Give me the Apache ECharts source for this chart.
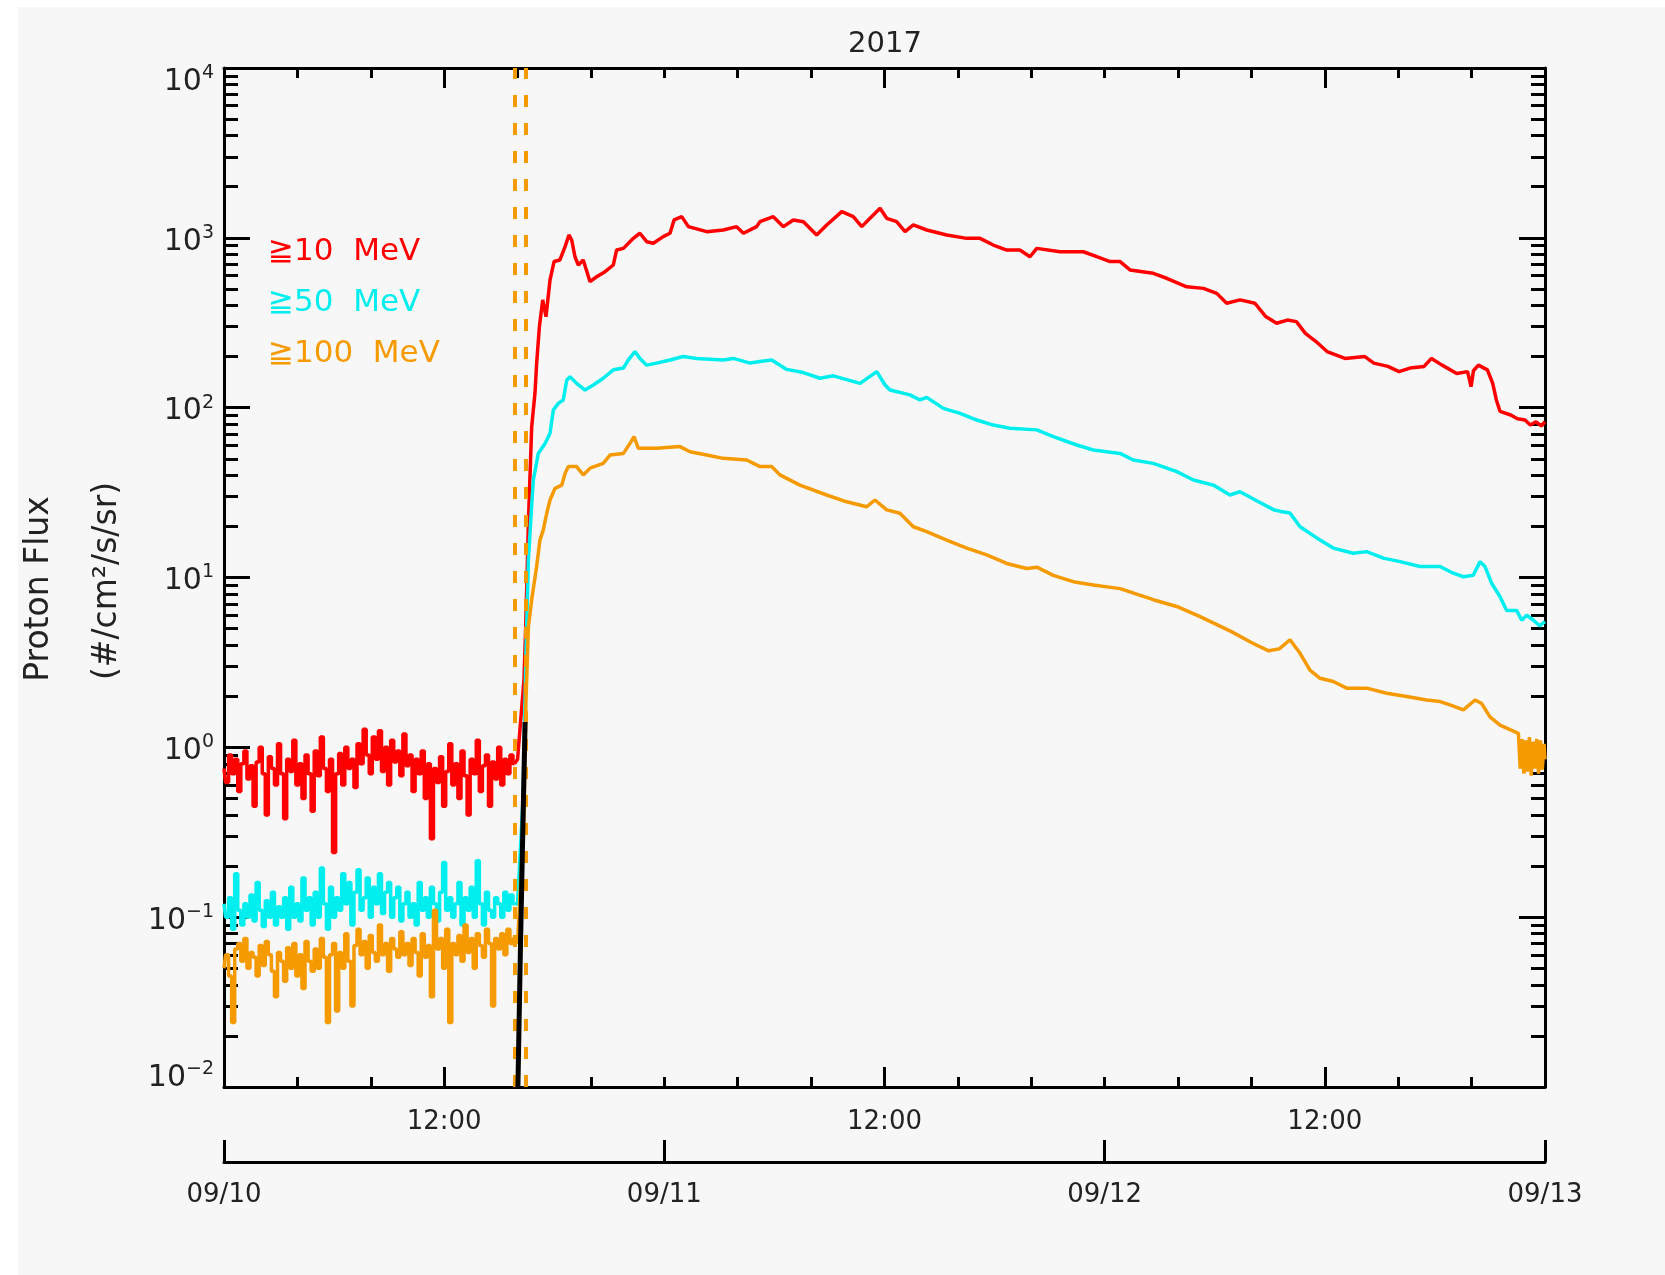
<!DOCTYPE html>
<html>
<head>
<meta charset="utf-8">
<script src="https://cdn.jsdelivr.net/npm/echarts@6/dist/echarts.min.js"></script>
<style>
html,body{margin:0;padding:0;background:#ffffff;width:1665px;height:1275px;overflow:hidden}
#c{position:absolute;left:18px;top:7px;width:1647px;height:1268px;background:#f7f7f7}
</style>
</head>
<body>
<div id="c"></div>
<script>
// ---------------- data (hours since 2017-09-10 00:00, flux in #/cm2/s/sr) ----------------
const titleText = '2017';
const legendLabels = ['\u226710  MeV', '\u226750  MeV', '\u2267100  MeV'];
const yTitleLines = ['Proton Flux', '(#/cm\u00b2/s/sr)'];

const preStepHours = 1 / 6; // 10-minute sampling before the event

const redPre = [0.75,0.62,0.9,0.7,0.85,0.55,0.8,0.95,0.65,0.78,
  0.45,0.82,1.0,0.7,0.4,0.88,0.75,0.6,1.05,0.7,
  0.38,0.85,0.72,1.1,0.6,0.8,0.5,0.9,0.7,0.42,
  0.95,0.68,1.15,0.75,0.55,0.85,0.24,0.7,0.92,0.6,
  1.0,0.75,0.85,0.58,1.05,0.8,1.28,0.9,0.7,1.15,
  0.85,1.25,0.72,1.0,0.6,1.1,0.82,0.95,0.68,1.2,
  0.78,0.9,0.55,0.85,0.7,0.95,0.5,0.8,0.29,0.75,
  0.62,0.88,0.45,0.72,1.05,0.6,0.8,0.5,0.95,0.68,
  0.4,0.85,0.7,1.1,0.55,0.78,0.9,0.45,0.82,0.65,
  1.0,0.6,0.85,0.7,0.9,0.8];

const cyanPre = [0.12,0.1,0.13,0.085,0.18,0.11,0.09,0.12,0.1,0.135,
  0.095,0.16,0.11,0.088,0.125,0.1,0.14,0.09,0.115,0.1,
  0.13,0.085,0.15,0.1,0.12,0.095,0.17,0.11,0.13,0.09,
  0.14,0.1,0.195,0.12,0.085,0.15,0.1,0.13,0.11,0.18,
  0.12,0.16,0.09,0.14,0.19,0.11,0.13,0.17,0.1,0.15,
  0.12,0.18,0.105,0.14,0.16,0.1,0.13,0.15,0.095,0.12,
  0.14,0.1,0.12,0.09,0.16,0.11,0.13,0.1,0.15,0.12,
  0.095,0.14,0.21,0.11,0.13,0.1,0.12,0.16,0.09,0.13,
  0.11,0.15,0.1,0.215,0.12,0.09,0.14,0.11,0.1,0.13,
  0.12,0.1,0.14,0.11,0.135,0.12];

const orangePre = [0.05,0.06,0.045,0.024,0.065,0.07,0.055,0.075,0.05,0.062,
  0.058,0.045,0.068,0.052,0.072,0.06,0.048,0.034,0.062,0.055,
  0.042,0.066,0.05,0.07,0.045,0.06,0.038,0.072,0.055,0.048,
  0.065,0.05,0.075,0.058,0.024,0.06,0.07,0.028,0.062,0.05,
  0.08,0.055,0.03,0.068,0.085,0.06,0.072,0.05,0.078,0.062,
  0.055,0.09,0.06,0.07,0.048,0.075,0.065,0.058,0.082,0.06,
  0.07,0.052,0.075,0.062,0.045,0.08,0.058,0.068,0.034,0.11,
  0.065,0.075,0.05,0.085,0.024,0.07,0.06,0.078,0.055,0.09,
  0.062,0.075,0.05,0.08,0.068,0.058,0.085,0.07,0.03,0.075,
  0.065,0.08,0.06,0.085,0.07,0.075];

const redEvent = [[16.0,0.85],[16.35,2.5],[16.45,5.4],[16.59,20.9],[16.77,77],[16.95,122],[17.04,182],[17.19,300],[17.37,431],[17.55,343],[17.77,565],[17.99,725],[18.31,741],[18.59,887],[18.80,1040],[18.95,971],[19.13,774],[19.31,692],[19.58,741],[19.95,552],[20.31,590],[20.77,632],[21.22,692],[21.40,848],[21.77,867],[22.31,993],[22.67,1064],[23.04,949],[23.40,929],[23.94,1016],[24.31,1064],[24.53,1274],[24.95,1333],[25.31,1164],[26.31,1087],[27.21,1112],[27.94,1164],[28.31,1064],[29.03,1164],[29.21,1245],[29.94,1333],[30.49,1164],[31.03,1274],[31.58,1245],[32.30,1040],[32.85,1191],[33.67,1426],[34.30,1333],[34.76,1164],[35.21,1303],[35.76,1493],[36.12,1303],[36.66,1245],[37.12,1087],[37.57,1191],[38.30,1112],[39.39,1040],[40.48,993],[41.21,993],[41.93,907],[42.66,847],[43.38,847],[43.93,774],[44.30,867],[45.57,828],[46.84,828],[47.57,774],[48.29,725],[48.84,725],[49.38,647],[50.65,618],[51.38,578],[52.47,515],[53.38,504],[54.11,471],[54.65,412],[55.38,431],[56.19,412],[56.78,344],[57.37,314],[57.96,328],[58.45,321],[58.94,274],[59.52,245],[60.12,214],[61.10,195],[62.18,200],[62.67,183],[63.44,175],[64.04,163],[64.64,171],[65.41,175],[65.81,195],[66.39,178],[67.19,159],[67.78,163],[67.97,133],[68.1,165],[68.37,178],[68.86,167],[69.15,139],[69.35,111],[69.55,95],[70.13,90.5],[70.5,86],[70.91,84.6],[71.2,79],[71.51,82.6],[71.8,78],[72,82.6]];

const cyanEvent = [[16.0,0.12],[16.3,0.5],[16.46,3.6],[16.59,12.7],[16.72,21.8],[16.86,37.5],[17.13,53.8],[17.50,61.6],[17.77,70.6],[17.95,96.9],[18.22,106],[18.49,111],[18.68,145],[18.86,152],[19.22,139],[19.68,127],[20.13,136],[20.67,149],[21.22,167],[21.77,171],[22.04,191],[22.40,214],[22.67,195],[23.04,178],[23.58,183],[24.31,191],[25.03,200],[25.76,195],[27.21,191],[27.76,195],[28.67,183],[29.21,187],[29.85,191],[30.67,168],[31.58,161],[32.48,149],[33.21,154],[34.67,139],[35.58,163],[36.03,136],[36.30,127],[37.39,119],[37.94,111],[38.30,115],[39.21,99],[40.12,92.6],[41.03,84.6],[41.93,79],[42.84,75.6],[44.30,74],[45.20,67.5],[46.48,60.3],[47.38,56.3],[48.84,53.8],[49.56,49.2],[50.65,47],[51.93,42],[52.84,37.5],[53.92,35],[54.83,30.6],[55.38,32],[56.36,28],[57.23,25],[57.6,24.5],[58.10,24],[58.65,19.9],[59.74,16.6],[60.46,14.9],[61.55,13.9],[62.28,14.2],[63.19,13.0],[64.10,12.4],[65.19,11.6],[66.28,11.6],[67.0,10.6],[67.55,10.1],[68.09,10.3],[68.46,12.4],[68.73,11.6],[69.09,9.25],[69.55,7.7],[69.91,6.4],[70.46,6.4],[70.73,5.6],[71.0,6.0],[71.37,5.6],[71.7,5.2],[72,5.5]];

const orangeEvent = [[16.0,0.07],[16.35,0.4],[16.46,1.9],[16.59,5.1],[16.77,7.4],[17.04,11.6],[17.22,16.6],[17.40,19],[17.59,23.9],[17.77,28.6],[18.04,33.5],[18.41,35],[18.59,41],[18.77,45],[19.22,45],[19.58,40.2],[19.95,44],[20.67,47],[21.04,52.6],[21.77,53.8],[22.13,61.6],[22.35,67.5],[22.58,57.7],[23.58,57.7],[24.85,59],[25.40,55],[26.31,52.6],[27.21,50.3],[28.49,49.2],[29.21,45],[29.85,45],[30.30,40.2],[31.39,35],[32.85,30.6],[33.94,27.9],[35.03,26.1],[35.48,28.6],[36.12,25],[36.84,23.9],[37.57,19.9],[38.30,18.6],[39.39,16.6],[40.48,14.9],[41.57,13.6],[42.66,12.1],[43.75,11.3],[44.3,11.5],[45.20,10.3],[46.29,9.45],[47.38,9.03],[48.84,8.6],[50.65,7.4],[52.02,6.7],[53.17,5.9],[54.91,4.8],[56.07,4.1],[56.94,3.7],[57.52,3.8],[58.10,4.3],[58.65,3.58],[59.19,2.85],[59.74,2.55],[60.46,2.44],[61.19,2.23],[62.28,2.23],[63.37,2.08],[64.46,1.99],[65.55,1.90],[66.28,1.86],[66.82,1.78],[67.55,1.66],[68.19,1.90],[68.55,1.81],[69.0,1.51],[69.55,1.35],[70.09,1.27],[70.55,1.21],[70.65,0.75],[70.75,1.12],[70.85,0.7],[70.95,1.1],[71.05,0.72],[71.15,1.15],[71.25,0.68],[71.35,1.08],[71.45,0.75],[71.55,1.12],[71.65,0.7],[71.75,1.1],[71.85,0.74],[71.95,1.05],[72,0.85]];

const spikeTrace = [[16.02,0.01],[16.15,0.06],[16.28,0.3],[16.41,1.41]];

const eventLineHours = [15.87, 16.42];

const hourTicks = [0,4,8,12,16,20,24,28,32,36,40,44,48,52,56,60,64,68,72];
const hourLabelTicks = [12, 36, 60];
const hourLabels = ['12:00', '12:00', '12:00'];
const dayTicks = [0, 24, 48, 72];
const dayLabels = ['09/10', '09/11', '09/12', '09/13'];
const decadeTicks = [0.01, 0.1, 1, 10, 100, 1000, 10000];
const minorMultipliers = [2,3,4,5,6,7,8,9];

// ---------------- styling ----------------
const FONT = 'DejaVu Sans';
const INK = '#222222';
const RED = '#ff0000', CYAN = '#00eeee', ORANGE = '#f59a00';
const FRAME = {color: '#000000', width: 3};

const preHours = redPre.map((_, i) => i * preStepHours);
const zip = (h, v) => h.map((x, i) => [x, v[i]]);
const lastPre = (v) => [[preHours[preHours.length - 1], v[v.length - 1]]];

// minor log tick positions expressed as exponents (for the tick-only helper axes)
const minorExp = [];
decadeTicks.slice(0, -1).forEach(d => minorMultipliers.forEach(m => minorExp.push(Math.log10(d * m))));

function powLabel(v) {
  const e = Math.round(Math.log10(v));
  const sup = e < 0 ? '\u2212' + (-e) : String(e);
  if (e === 4) return '{bt|10}{st|' + sup + '}';
  if (e === -2) return '{bb|10}{sb|' + sup + '}';
  return '{b|10}{s|' + sup + '}';
}

const baseText = {fontFamily: FONT, color: INK, verticalAlign: 'middle'};
const xBase = {type: 'value', min: 0, max: 72, splitLine: {show: false},
  axisLine: {show: false, onZero: false}, axisLabel: {show: false}, axisTick: {show: false}};
const yLogBase = {type: 'log', logBase: 10, min: 0.01, max: 10000, splitLine: {show: false}};
const yExpBase = {type: 'value', min: -2, max: 4, splitLine: {show: false},
  axisLine: {show: false, onZero: false}, axisLabel: {show: false}};

const lineSeries = (name, data, color, width, z, step) => ({
  type: 'line', name, data, xAxisIndex: 0, yAxisIndex: 0,
  showSymbol: false, symbol: 'none', z, step: step || false,
  lineStyle: {color, width}, itemStyle: {color},
  emphasis: {disabled: true}, animation: false
});

const orange = lineSeries('\u2267100 MeV', lastPre(orangePre).concat(orangeEvent), ORANGE, 3.5, 4);
orange.markLine = {
  silent: true, symbol: ['none', 'none'], label: {show: false}, animation: false,
  lineStyle: {color: ORANGE, width: 4, type: [12, 16]},
  emphasis: {disabled: true},
  data: eventLineHours.map(h => ({xAxis: h}))
};

const option = {
  backgroundColor: '#f7f7f7',
  animation: false,
  grid: {left: 206, top: 61, width: 1321, height: 1019, containLabel: false, outerBoundsMode: 'none'},
  xAxis: [
    Object.assign({}, xBase, {position: 'bottom',
      axisLine: {show: true, onZero: false, lineStyle: FRAME},
      axisTick: {show: true, inside: true, length: 10, customValues: hourTicks, lineStyle: FRAME}}),
    Object.assign({}, xBase, {position: 'bottom',
      axisTick: {show: true, inside: true, length: 20, customValues: hourLabelTicks, lineStyle: FRAME},
      axisLabel: {show: true, customValues: hourLabelTicks, margin: 22, fontFamily: FONT, fontSize: 26, color: INK,
        formatter: v => hourLabels[hourLabelTicks.indexOf(v)]}}),
    Object.assign({}, xBase, {position: 'top',
      axisLine: {show: true, onZero: false, lineStyle: FRAME},
      axisTick: {show: true, inside: true, length: 10, customValues: hourTicks, lineStyle: FRAME}}),
    Object.assign({}, xBase, {position: 'top',
      axisTick: {show: true, inside: true, length: 20, customValues: hourLabelTicks, lineStyle: FRAME}}),
    Object.assign({}, xBase, {position: 'bottom', offset: 75,
      axisLine: {show: true, onZero: false, lineStyle: FRAME},
      axisTick: {show: true, inside: true, length: 22, customValues: dayTicks, lineStyle: FRAME},
      axisLabel: {show: true, customValues: dayTicks, margin: 20, fontFamily: FONT, fontSize: 26, color: INK,
        showMinLabel: true, showMaxLabel: true,
        formatter: v => dayLabels[dayTicks.indexOf(v)]}})
  ],
  yAxis: [
    Object.assign({}, yLogBase, {position: 'left',
      axisLine: {show: true, onZero: false, lineStyle: FRAME},
      axisTick: {show: true, inside: true, length: 26, lineStyle: FRAME},
      axisLabel: {show: true, margin: 10, formatter: powLabel, showMinLabel: true, showMaxLabel: true,
        rich: {
          b: Object.assign({fontSize: 30, padding: [8, 0, 0, 0]}, baseText),
          s: Object.assign({fontSize: 19, padding: [0, 0, 10, 0]}, baseText),
          bt: Object.assign({fontSize: 30, padding: [28, 0, 0, 0]}, baseText),
          st: Object.assign({fontSize: 19, padding: [10, 0, 0, 0]}, baseText),
          bb: Object.assign({fontSize: 30, padding: [0, 0, 18, 0]}, baseText),
          sb: Object.assign({fontSize: 19, padding: [0, 0, 36, 0]}, baseText)
        }}}),
    Object.assign({}, yExpBase, {position: 'left',
      axisTick: {show: true, inside: true, length: 14, customValues: minorExp, lineStyle: FRAME}}),
    Object.assign({}, yLogBase, {position: 'right',
      axisLine: {show: true, onZero: false, lineStyle: FRAME},
      axisTick: {show: true, inside: true, length: 26, lineStyle: FRAME},
      axisLabel: {show: false}}),
    Object.assign({}, yExpBase, {position: 'right',
      axisTick: {show: true, inside: true, length: 14, customValues: minorExp, lineStyle: FRAME}})
  ],
  series: [
    lineSeries('\u226710 MeV', zip(preHours, redPre), RED, 3.5, 2, 'middle'),
    lineSeries('\u226710 MeV', lastPre(redPre).concat(redEvent), RED, 3.5, 2),
    lineSeries('\u226750 MeV', zip(preHours, cyanPre), CYAN, 3.5, 3, 'middle'),
    lineSeries('\u226750 MeV', lastPre(cyanPre).concat(cyanEvent), CYAN, 3.5, 3),
    lineSeries('\u2267100 MeV', zip(preHours, orangePre), ORANGE, 3.5, 4, 'middle'),
    orange,
    lineSeries('spike', spikeTrace, '#000000', 5, 6)
  ],
  graphic: [
    {type: 'text', x: 867, y: 37, silent: true,
      style: {text: titleText, font: '29px "DejaVu Sans"', fill: INK, align: 'center', verticalAlign: 'middle', textAlign: 'center', textVerticalAlign: 'middle'}},
    {type: 'text', x: 21, y: 582, rotation: Math.PI / 2, silent: true,
      style: {text: yTitleLines[0], font: '33px "DejaVu Sans"', fill: INK, align: 'center', verticalAlign: 'middle', textAlign: 'center', textVerticalAlign: 'middle'}},
    {type: 'text', x: 89, y: 574, rotation: Math.PI / 2, silent: true,
      style: {text: yTitleLines[1], font: '33px "DejaVu Sans"', fill: INK, align: 'center', verticalAlign: 'middle', textAlign: 'center', textVerticalAlign: 'middle'}},
    {type: 'text', x: 250, y: 245, silent: true,
      style: {text: legendLabels[0], font: '31px "DejaVu Sans"', fill: RED, align: 'left', verticalAlign: 'middle', textAlign: 'left', textVerticalAlign: 'middle'}},
    {type: 'text', x: 250, y: 296, silent: true,
      style: {text: legendLabels[1], font: '31px "DejaVu Sans"', fill: CYAN, align: 'left', verticalAlign: 'middle', textAlign: 'left', textVerticalAlign: 'middle'}},
    {type: 'text', x: 250, y: 347, silent: true,
      style: {text: legendLabels[2], font: '31px "DejaVu Sans"', fill: ORANGE, align: 'left', verticalAlign: 'middle', textAlign: 'left', textVerticalAlign: 'middle'}}
  ]
};

const chart = echarts.init(document.getElementById('c'), null, {renderer: 'canvas'});
chart.setOption(option);
</script>
</body>
</html>
